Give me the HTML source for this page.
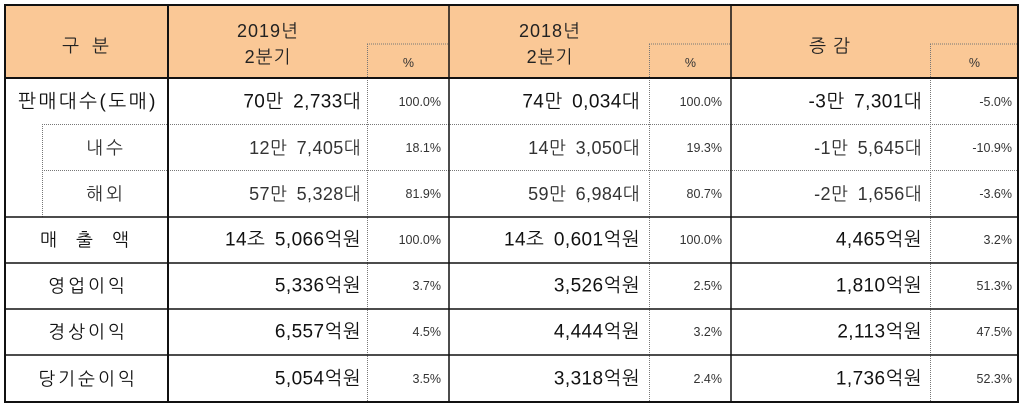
<!DOCTYPE html>
<html><head><meta charset="utf-8"><style>
html,body{margin:0;padding:0;background:#fff;}
svg{display:block;}
text{font-family:"Liberation Sans","NanumGothic","Noto Sans CJK KR",sans-serif;fill:#222;dominant-baseline:central;}
.v{font-size:18px;text-anchor:end;letter-spacing:0.4px;word-spacing:4px;fill:#333;}
.b{font-size:19px;text-anchor:end;fill:#111;letter-spacing:0.4px;word-spacing:4px;}
.p{font-size:12.5px;text-anchor:end;fill:#333;}
.l{font-size:18px;text-anchor:middle;letter-spacing:3px;fill:#111;}
.h{font-size:18px;text-anchor:middle;letter-spacing:1px;}
</style></head><body>
<svg width="1024" height="408" viewBox="0 0 1024 408">
<rect x="0" y="0" width="1024" height="408" fill="#fff"/>
<rect x="5" y="5" width="1013" height="73" fill="#fac896"/>
<g stroke="#777" stroke-width="1" stroke-dasharray="1,1" fill="none">
<line x1="367" y1="44" x2="449" y2="44"/>
<line x1="649" y1="44" x2="731" y2="44"/>
<line x1="930" y1="44" x2="1018" y2="44"/>
<line x1="367.5" y1="44" x2="367.5" y2="402"/>
<line x1="649.5" y1="44" x2="649.5" y2="402"/>
<line x1="930.5" y1="44" x2="930.5" y2="402"/>
<line x1="42" y1="124.5" x2="1018" y2="124.5"/>
<line x1="42" y1="170.5" x2="1018" y2="170.5"/>
<line x1="42.5" y1="124" x2="42.5" y2="217"/>
</g>
<g stroke="#111" fill="none">
<rect x="5" y="5" width="1013" height="397" stroke-width="2"/>
<line x1="5" y1="78" x2="1018" y2="78" stroke-width="2"/>
<line x1="5" y1="217" x2="1018" y2="217" stroke-width="1.5"/>
<line x1="5" y1="263" x2="1018" y2="263" stroke-width="1.5"/>
<line x1="5" y1="309" x2="1018" y2="309" stroke-width="1.5"/>
<line x1="5" y1="355" x2="1018" y2="355" stroke-width="1.5"/>
<line x1="168" y1="5" x2="168" y2="402" stroke-width="2"/>
<line x1="449" y1="5" x2="449" y2="402" stroke-width="1.5"/>
<line x1="731" y1="5" x2="731" y2="402" stroke-width="1.5"/>
</g>
<text class="h" x="86" y="46">구&#160;&#160;분</text>
<text class="h" x="268" y="31">2019년</text>
<text class="h" x="268" y="57">2분기</text>
<text class="p" x="414" y="63">%</text>
<text class="h" x="550" y="31">2018년</text>
<text class="h" x="550" y="57">2분기</text>
<text class="p" x="696" y="63">%</text>
<text class="h" x="830" y="46">증&#160;감</text>
<text class="p" x="980" y="63">%</text>

<text class="l" x="88" y="102" style="font-size:19px;letter-spacing:2.5px">판매대수(도매)</text>
<text class="b" x="361" y="102">70만 2,733대</text><text class="p" x="441" y="102">100.0%</text>
<text class="b" x="640" y="102">74만 0,034대</text><text class="p" x="722" y="102">100.0%</text>
<text class="b" x="922" y="102">-3만 7,301대</text><text class="p" x="1012" y="102">-5.0%</text>

<text class="l" x="106" y="148" style="fill:#333">내수</text>
<text class="v" x="361" y="148">12만 7,405대</text><text class="p" x="441" y="148">18.1%</text>
<text class="v" x="640" y="148">14만 3,050대</text><text class="p" x="722" y="148">19.3%</text>
<text class="v" x="922" y="148">-1만 5,645대</text><text class="p" x="1012" y="148">-10.9%</text>

<text class="l" x="106" y="194" style="fill:#333">해외</text>
<text class="v" x="361" y="194">57만 5,328대</text><text class="p" x="441" y="194">81.9%</text>
<text class="v" x="640" y="194">59만 6,984대</text><text class="p" x="722" y="194">80.7%</text>
<text class="v" x="922" y="194">-2만 1,656대</text><text class="p" x="1012" y="194">-3.6%</text>

<text class="l" x="86" y="240">매&#160;&#160;출&#160;&#160;액</text>
<text class="b" x="361" y="240">14조 5,066억원</text><text class="p" x="441" y="240">100.0%</text>
<text class="b" x="640" y="240">14조 0,601억원</text><text class="p" x="722" y="240">100.0%</text>
<text class="b" x="922" y="240">4,465억원</text><text class="p" x="1012" y="240">3.2%</text>

<text class="l" x="88" y="286">영업이익</text>
<text class="b" x="361" y="286">5,336억원</text><text class="p" x="441" y="286">3.7%</text>
<text class="b" x="640" y="286">3,526억원</text><text class="p" x="722" y="286">2.5%</text>
<text class="b" x="922" y="286">1,810억원</text><text class="p" x="1012" y="286">51.3%</text>

<text class="l" x="88" y="332">경상이익</text>
<text class="b" x="361" y="332">6,557억원</text><text class="p" x="441" y="332">4.5%</text>
<text class="b" x="640" y="332">4,444억원</text><text class="p" x="722" y="332">3.2%</text>
<text class="b" x="922" y="332">2,113억원</text><text class="p" x="1012" y="332">47.5%</text>

<text class="l" x="88" y="379">당기순이익</text>
<text class="b" x="361" y="379">5,054억원</text><text class="p" x="441" y="379">3.5%</text>
<text class="b" x="640" y="379">3,318억원</text><text class="p" x="722" y="379">2.4%</text>
<text class="b" x="922" y="379">1,736억원</text><text class="p" x="1012" y="379">52.3%</text>
</svg>
</body></html>
